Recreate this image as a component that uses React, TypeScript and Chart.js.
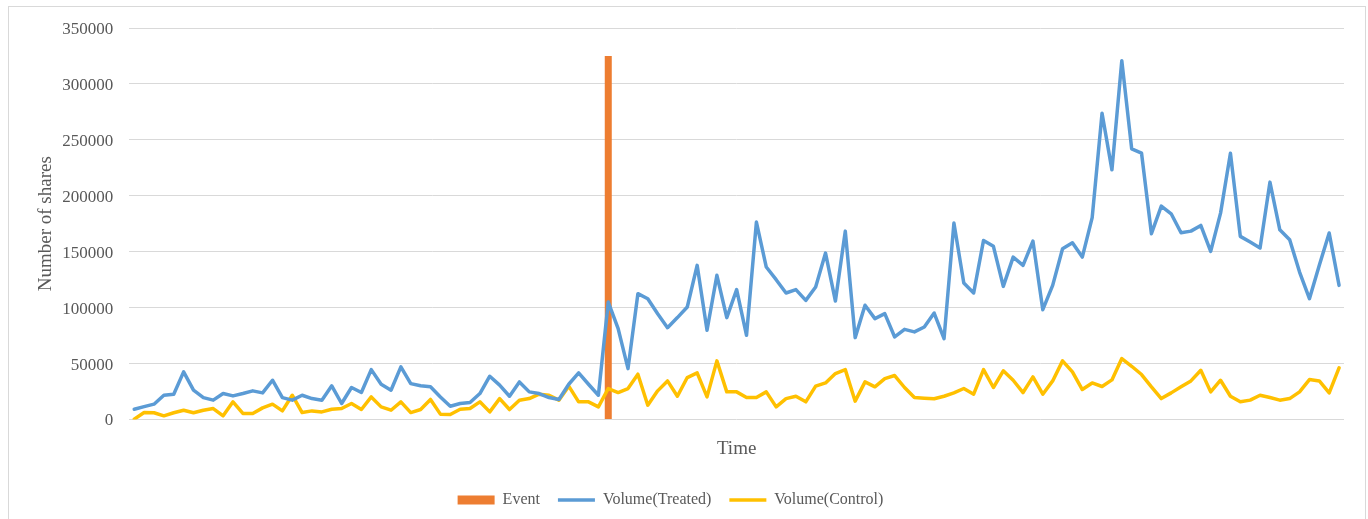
import { useEffect, useRef } from "react";
import { Chart, registerables } from "chart.js";

Chart.register(...registerables);

// Volume of the treated firm (number of shares), one value per period
const treated: number[] = [
  9200, 11500, 13700, 21700, 22600, 42600, 26200, 19600, 17300, 23200, 21100, 23200, 25600,
  23800, 35100, 19600, 17300, 21700, 18700, 17300, 30100, 14300, 28600, 24100, 44600, 31500,
  26200, 47000, 32100, 30100, 29200, 20200, 11900, 14300, 15200, 23200, 38700, 30700, 20800,
  33600, 24700, 23200, 19600, 17900, 31500, 41700, 31500, 21700,
  105000, 81200, 45500, 112500, 108000, 94600, 82100, 91100, 100600, 137800, 79800, 128900,
  91100, 116100, 75300, 176500, 136300, 125000, 113100, 116100, 106500, 118400, 148800, 105900,
  168400, 73200, 102100, 90200, 94600, 73800,
  80600, 78300, 82700, 95200, 72300, 175600, 122000, 113100, 160100, 154800, 119000, 145200,
  137800, 159500, 98200, 119900, 152700, 158000, 145200, 180500,
  273800, 223200, 320800, 242000, 238100, 166100, 190800, 183900, 167000, 168400, 173500,
  150300, 184500, 238100, 163700, 158600, 153300, 212200, 169600, 160700, 131800, 108000,
  137800, 166700, 119900,
];

// Volume of the control group (number of shares)
const control: number[] = [
  300, 6200, 6000, 3300, 6000, 8300, 6000, 8300, 9800, 3300, 15800, 5400, 5400,
  10400, 13700, 7700, 21700, 6200, 7700, 6800, 9200, 9800, 14300, 8900, 20200, 11300,
  8300, 15800, 6200, 8900, 17900, 4800, 4500, 9200, 9800, 15800, 6800, 18700, 8900,
  17300, 18700, 22600, 21700, 17300, 29800, 15800, 15800, 11300,
  27700, 24100, 27700, 40500, 12800, 25600, 34500, 20800, 37500, 41700, 20200, 52400,
  24700, 24700, 19600, 19600, 24700, 11300, 18700, 20800, 15800, 29800, 32700, 41100,
  44600, 16400, 33600, 29200, 36600, 39300,
  28600, 19600, 19000, 18500, 20800, 23800, 27700, 22600, 44600, 28600, 43500, 35100,
  24100, 38100, 22600, 34500, 52400, 42600, 26800, 32700,
  29500, 35400, 54500, 47600, 40200, 29200, 18700, 23800, 29200, 34500, 44000,
  24700, 35100, 20800, 15800, 17300, 21700, 19600, 17300, 18700, 24700, 35700,
  34500, 23800, 46100,
];

// Event marker: period index and bar height
const eventIndex = 48;
const eventHeight = 325000;

// Category labels (periods, not displayed)
const periods: string[] = treated.map((_, i) => String(i + 1));

// Y axis range
const yMin = 0;
const yMax = 350000;
const yStep = 50000;

const FONT = "'Times New Roman', 'Liberation Serif', serif";
const TEXT = "#595959";
const GRID = "#D9D9D9";

const legendShift = {
  id: "legendShift",
  afterLayout(chart: any) {
    if (chart.legend) {
      chart.legend.left -= 6;
      chart.legend.right -= 6;
    }
  },
};

export default function App() {
  const ref = useRef<HTMLCanvasElement>(null);

  useEffect(() => {
    if (!ref.current) return;
    const eventData = periods.map((_, i) => (i === eventIndex ? eventHeight : null));
    const chart = new Chart(ref.current, {
      type: "bar",
      data: {
        labels: periods,
        datasets: [
          {
            type: "bar",
            label: "Event",
            data: eventData,
            backgroundColor: "#ED7D31",
            borderWidth: 0,
            barPercentage: 0.71,
            categoryPercentage: 1,
            order: 1,
            pointStyle: "rect",
          } as any,
          {
            type: "line",
            label: "Volume(Treated)",
            data: treated,
            borderColor: "#5B9BD5",
            backgroundColor: "#5B9BD5",
            borderWidth: 3.5,
            pointRadius: 0,
            tension: 0,
            borderJoinStyle: "round",
            borderCapStyle: "round",
            order: 0,
            pointStyle: "line",
          } as any,
          {
            type: "line",
            label: "Volume(Control)",
            data: control,
            borderColor: "#FFC000",
            backgroundColor: "#FFC000",
            borderWidth: 3.5,
            pointRadius: 0,
            tension: 0,
            borderJoinStyle: "round",
            borderCapStyle: "round",
            order: 0,
            pointStyle: "line",
          } as any,
        ],
      },
      plugins: [legendShift],
      options: {
        animation: false,
        responsive: false,
        devicePixelRatio: 1,
        layout: { padding: { left: 0, right: 21, top: 21, bottom: 1 } },
        plugins: {
          tooltip: { enabled: false },
          legend: {
            position: "bottom",
            labels: {
              usePointStyle: true,
              pointStyleWidth: 37,
              boxHeight: 9,
              padding: 18,
              color: TEXT,
              font: { family: FONT, size: 16 },
              sort: (a: any, b: any) => a.datasetIndex - b.datasetIndex,
            },
          },
        },
        scales: {
          x: {
            type: "category",
            offset: true,
            grid: { display: false, drawTicks: false },
            border: { display: false },
            ticks: { display: false },
            title: {
              display: true,
              text: "Time",
              color: TEXT,
              font: { family: FONT, size: 19 },
              padding: { top: 0, bottom: 13.6 },
            },
            afterFit: (scale: any) => {
              scale.height = 54.5;
            },
          },
          y: {
            min: yMin,
            max: yMax,
            grid: { color: GRID, lineWidth: 1, drawTicks: false },
            border: { display: false },
            ticks: {
              stepSize: yStep,
              padding: 16,
              labelOffset: 1.5,
              color: TEXT,
              font: { family: FONT, size: 17 },
              callback: (v: any) => String(v),
            },
            title: {
              display: true,
              text: "Number of shares",
              color: TEXT,
              font: { family: FONT, size: 19 },
              padding: { top: 26, bottom: 0 },
            },
            afterFit: (scale: any) => {
              scale.width = 120.3;
              scale.paddingTop = 8;
              scale.paddingBottom = 8;
            },
          },
        },
      },
    } as any);
    return () => chart.destroy();
  }, []);

  return (
    <div
      style={{
        position: "absolute",
        left: 8,
        top: 6,
        width: 1358,
        height: 513,
        border: `1px solid ${GRID}`,
        borderBottom: "none",
        boxSizing: "border-box",
        background: "#fff",
      }}
    >
      <canvas ref={ref} width={1356} height={512} style={{ display: "block", width: 1356, height: 512 }} />
    </div>
  );
}
